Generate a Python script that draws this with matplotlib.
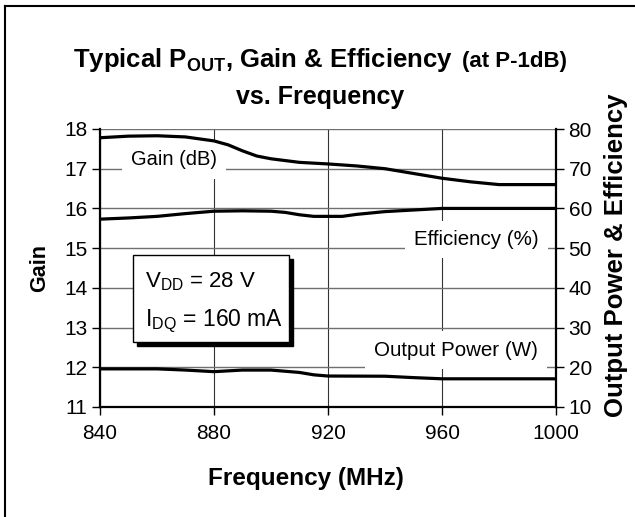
import matplotlib
matplotlib.use("Agg")
import matplotlib.pyplot as plt
from matplotlib import transforms
from matplotlib.lines import Line2D
from matplotlib.patches import Rectangle
from matplotlib.offsetbox import TextArea, HPacker, AnchoredOffsetbox

plt.rcParams['font.family'] = ['Liberation Sans', 'DejaVu Sans']
plt.rcParams['mathtext.fontset'] = 'custom'
plt.rcParams['mathtext.rm'] = 'Liberation Sans'
plt.rcParams['mathtext.bf'] = 'Liberation Sans:bold'
plt.rcParams['mathtext.it'] = 'Liberation Sans:italic'

# --- data ---
freq_gain = [840, 850, 860, 870, 880, 885, 890, 895, 900, 910, 920, 930, 940, 950, 960, 970, 980, 990, 1000]
gain_db = [17.78, 17.82, 17.83, 17.80, 17.70, 17.60, 17.45, 17.32, 17.25, 17.16, 17.12, 17.07, 17.00,
           16.88, 16.76, 16.67, 16.60, 16.60, 16.60]

freq_eff = [840, 850, 860, 870, 880, 890, 900, 905, 910, 915, 925, 930, 940, 950, 960, 980, 1000]
eff_pct = [57.3, 57.6, 58.0, 58.7, 59.3, 59.4, 59.3, 59.0, 58.4, 58.0, 58.0, 58.5, 59.2, 59.6, 60.0, 60.0, 60.0]

freq_pout = [840, 850, 860, 870, 880, 890, 900, 910, 915, 920, 940, 950, 960, 980, 1000]
pout_w = [19.6, 19.6, 19.6, 19.3, 18.9, 19.3, 19.3, 18.7, 18.1, 17.8, 17.75, 17.4, 17.1, 17.1, 17.1]

freq_ticks = [840, 880, 920, 960, 1000]
gain_ticks = [11, 12, 13, 14, 15, 16, 17, 18]
right_ticks = [10, 20, 30, 40, 50, 60, 70, 80]

W, H = 635, 517
fig = plt.figure(figsize=(W / 100, H / 100), dpi=100)

# outer frame (only top and left edges show in the crop)
fig.add_artist(Line2D([5 / W, 1.0], [1 - 6 / H, 1 - 6 / H], color='black', lw=1.5))
fig.add_artist(Line2D([5 / W, 5 / W], [1 - 6 / H, 0.0], color='black', lw=1.5))

ax = fig.add_axes([100 / W, 1 - 407 / H, 456 / W, 278 / H])
ax2 = ax.twinx()

ax.set_xlim(freq_ticks[0], freq_ticks[-1])
ax.set_ylim(gain_ticks[0], gain_ticks[-1])
ax2.set_ylim(right_ticks[0], right_ticks[-1])
ax.set_xticks(freq_ticks)
ax.set_yticks(gain_ticks)
ax2.set_yticks(right_ticks)

ax.grid(True, axis='x', color='#333333', lw=0.8)
ax.grid(True, axis='y', color='#707070', lw=1.0)
ax.set_axisbelow(True)

for s in ['top', 'right']:
    ax.spines[s].set_visible(False)
for s in ['top', 'left', 'bottom']:
    ax2.spines[s].set_visible(False)
ax.spines['left'].set_linewidth(1.6)
ax.spines['bottom'].set_linewidth(1.6)
ax2.spines['right'].set_linewidth(1.6)

ax.tick_params(axis='both', direction='out', length=6, width=1, labelsize=15, pad=3)
ax2.tick_params(axis='y', direction='out', length=6, width=1, labelsize=15, pad=3)
ax.tick_params(axis='x', pad=6)

# curves
ax.plot(freq_gain, gain_db, color='black', lw=2.3, zorder=3, solid_capstyle='butt')
ax2.plot(freq_eff, eff_pct, color='black', lw=2.3, zorder=3, solid_capstyle='butt')
ax2.plot(freq_pout, pout_w, color='black', lw=2.3, zorder=3, solid_capstyle='butt')

# curve labels on white boxes
lbl_box = dict(facecolor='white', edgecolor='none', boxstyle='square,pad=0.45')
ax.text(866, 17.22, 'Gain (dB)', fontsize=14.5, ha='center', va='center', bbox=lbl_box, zorder=2)
ax.text(972, 15.22, 'Efficiency (%)', fontsize=14.8, ha='center', va='center', bbox=lbl_box, zorder=2)
ax.text(965, 12.43, 'Output Power (W)', fontsize=14.8, ha='center', va='center', bbox=lbl_box, zorder=2)

# bias conditions box with drop shadow
shadow_tr = transforms.offset_copy(ax.transData, fig=fig, x=4, y=-4, units='dots')
ax.add_patch(Rectangle((851.6, 12.63), 54.7, 2.2, facecolor='black', edgecolor='black',
                       transform=shadow_tr, zorder=1.9))
ax.add_patch(Rectangle((851.6, 12.63), 54.7, 2.2, facecolor='white', edgecolor='black',
                       lw=1.0, zorder=2))
ax.text(855.8, 14.02, r'V$_{\mathrm{DD}}$ = 28 V', fontsize=16, ha='left', va='baseline', zorder=2.1)
ax.text(855.8, 13.04, r'I$_{\mathrm{DQ}}$ = 160 mA', fontsize=16.5, ha='left', va='baseline', zorder=2.1)

# axis labels
ax.set_xlabel('Frequency (MHz)', fontsize=17.5, fontweight='bold')
ax.xaxis.set_label_coords((306 - 100) / 456, (407 - 478) / 278)
ax.xaxis.label.set_va('center')
ax.set_ylabel('Gain', fontsize=15.5, fontweight='bold')
ax.yaxis.set_label_coords((40 - 100) / 456, 0.5)
ax.yaxis.label.set_va('center')
ax2.set_ylabel('Output Power & Efficiency', fontsize=18.5, fontweight='bold', rotation=90)
ax2.yaxis.set_label_coords((616 - 100) / 456, (407 - 255) / 278)
ax2.yaxis.label.set_va('center')

# two-size title
t_main = TextArea(r'Typical P$_{\mathbf{OUT}}$, Gain & Efficiency',
                  textprops=dict(fontsize=18.5, fontweight='bold'))
t_small = TextArea('(at P-1dB)', textprops=dict(fontsize=16, fontweight='bold'))
title_box = HPacker(children=[t_main, t_small], align='baseline', pad=0, sep=6)
fig.add_artist(AnchoredOffsetbox(loc='center', child=title_box, pad=0, borderpad=0, frameon=False,
                                 bbox_to_anchor=(320 / W, 1 - 60 / H),
                                 bbox_transform=fig.transFigure))
fig.text(320 / W, 1 - 97 / H, 'vs. Frequency', fontsize=18, fontweight='bold',
         ha='center', va='center')

fig.savefig('out.png', dpi=100)
